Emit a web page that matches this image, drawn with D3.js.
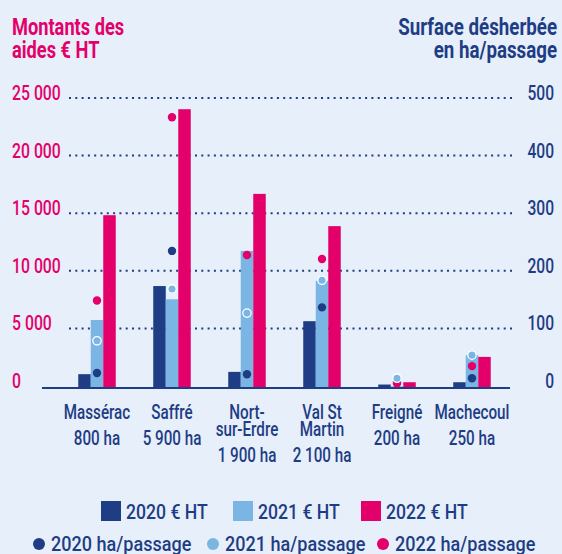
<!DOCTYPE html>
<html>
<head>
<meta charset="utf-8">
<title></title>
<style>
  html, body { margin: 0; padding: 0; background: #e7effa; }
  svg { display: block; font-family: "Roboto", "Noto Sans", sans-serif; font-weight: 500; }
</style>
</head>
<body>
<script src="https://cdn.jsdelivr.net/npm/d3@7"></script>
<script>
// données
var communes = ["Massérac", "Saffré", "Nort-sur-Erdre", "Val St Martin", "Freigné", "Machecoul"];
var nomLignes = [["Massérac"], ["Saffré"], ["Nort-", "sur-Erdre"], ["Val St", "Martin"], ["Freigné"], ["Machecoul"]];
var surfaces = ["800 ha", "5 900 ha", "1 900 ha", "2 100 ha", "200 ha", "250 ha"];
var annees = ["2020", "2021", "2022"];

// montants des aides € HT
var aides2020 = [1200, 8850, 1400, 5800, 300, 500];
var aides2021 = [5900, 7700, 11900, 9300, 150, 2850];
var aides2022 = [15000, 24200, 16850, 14050, 500, 2700];

// surface désherbée ha/passage
var ha2020 = [26, 238, 24, 140, 11, 17];
var ha2021 = [82, 172, 130, 187, 17, 57];
var ha2022 = [152, 470, 231, 224, 8, 38];

var ticksAides = [0, 5000, 10000, 15000, 20000, 25000];
var ticksHa = [0, 100, 200, 300, 400, 500];

var width = 562, height = 554;
var bleu = "#1e3d85", ciel = "#7ab5e4", rose = "#e4006a";
var couleurs = {"2020": bleu, "2021": ciel, "2022": rose};
var fmt = function(v) { return d3.format(",")(v).replace(/,/g, " "); };

// police étroite : on resserre le texte horizontalement
function etroit(sel, px, k) {
  sel.attr("transform", function(d, i) {
    var X = typeof px === "function" ? px(d, i) : px;
    return "translate(" + X + ",0) scale(" + k + ",1)";
  }).attr("x", 0);
}

var svg = d3.select("body").append("svg")
    .attr("width", width)
    .attr("height", height);

svg.append("rect").attr("width", width).attr("height", height).attr("fill", "#e7effa");

var x = d3.scaleBand()
    .domain(communes)
    .range([59.5, 509.5])
    .paddingInner(0.5)
    .paddingOuter(0.25);

var xs = d3.scaleBand().domain(annees).range([0, x.bandwidth()]);

var y = d3.scaleLinear().domain([0, 25000]).range([388, 100]);
var y2 = d3.scaleLinear().domain([0, 500]).range([388, 100]);

// titres
var titreG = svg.append("text").attr("fill", rose).attr("font-weight", 700).attr("font-size", 24)
    .call(etroit, 12, 0.76);
titreG.append("tspan").attr("x", 0).attr("y", 35).text("Montants des");
titreG.append("tspan").attr("x", 0).attr("y", 58).text("aides € HT");

var titreD = svg.append("text").attr("fill", bleu).attr("font-weight", 700).attr("font-size", 24)
    .attr("text-anchor", "end")
    .call(etroit, 557, 0.78);
titreD.append("tspan").attr("x", 0).attr("y", 35).text("Surface désherbée");
titreD.append("tspan").attr("x", 0).attr("y", 58).text("en ha/passage");

// grille pointillée
svg.append("g")
  .selectAll("line")
  .data(ticksAides.filter(d => d > 0))
  .join("line")
    .attr("x1", 69).attr("x2", 512)
    .attr("y1", d => y(d) - 2).attr("y2", d => y(d) - 2)
    .attr("stroke", bleu)
    .attr("stroke-width", 2)
    .attr("stroke-dasharray", "2 4.3");

// axe gauche
svg.append("g")
  .selectAll("text")
  .data(ticksAides)
  .join("text")
    .attr("y", d => y(d))
    .attr("fill", rose)
    .attr("font-size", 20)
    .text(fmt)
    .call(etroit, 12, 0.79);

// axe droit
svg.append("g")
  .selectAll("text")
  .data(ticksHa)
  .join("text")
    .attr("y", d => y2(d))
    .attr("text-anchor", "end")
    .attr("fill", bleu)
    .attr("font-size", 20)
    .text(d => d)
    .call(etroit, 554, 0.78);

// barres
var series = [
  {annee: "2020", valeurs: aides2020},
  {annee: "2021", valeurs: aides2021},
  {annee: "2022", valeurs: aides2022}
];

svg.append("g")
  .selectAll("g")
  .data(series)
  .join("g")
    .attr("fill", s => couleurs[s.annee])
  .selectAll("rect")
  .data(s => s.valeurs.map((v, i) => ({annee: s.annee, commune: communes[i], v: v})))
  .join("rect")
    .attr("x", d => x(d.commune) + xs(d.annee))
    .attr("y", d => y(d.v))
    .attr("width", xs.bandwidth())
    .attr("height", d => y(0) - y(d.v));

// ligne de base
svg.append("line")
    .attr("x1", 42).attr("x2", 510)
    .attr("y1", 388).attr("y2", 388)
    .attr("stroke", bleu)
    .attr("stroke-width", 2);

// points ha/passage
var points = [
  {annee: "2020", valeurs: ha2020},
  {annee: "2022", valeurs: ha2022},
  {annee: "2021", valeurs: ha2021}
];

svg.append("g")
  .selectAll("g")
  .data(points)
  .join("g")
  .selectAll("circle")
  .data(s => s.valeurs.map((v, i) => ({annee: s.annee, commune: communes[i], v: v})))
  .join("circle")
    .attr("cx", d => x(d.commune) + x.bandwidth() / 2)
    .attr("cy", d => y2(d.v))
    .attr("r", 4.2)
    .attr("fill", d => couleurs[d.annee])
    .attr("stroke", d => d.annee === "2021" ? "#ffffff" : "none")
    .attr("stroke-width", 1.3);

// étiquettes des communes
var etiq = svg.append("g")
  .selectAll("text")
  .data(communes)
  .join("text")
    .attr("text-anchor", "middle")
    .attr("fill", bleu)
    .attr("font-size", 20)
    .call(etroit, c => x(c) + x.bandwidth() / 2, 0.76);

etiq.each(function(c, i) {
  var t = d3.select(this);
  var lignes = nomLignes[i];
  lignes.forEach(function(l, j) {
    t.append("tspan").attr("x", 0).attr("y", 419 + j * 17.5).text(l);
  });
  t.append("tspan").attr("x", 0).attr("y", 419 + (lignes.length - 1) * 17.5 + 26).text(surfaces[i]);
});

// légende
var legBarres = [
  {annee: "2020", label: "2020 € HT", x: 101},
  {annee: "2021", label: "2021 € HT", x: 233},
  {annee: "2022", label: "2022 € HT", x: 361}
];
var legPoints = [
  {annee: "2020", label: "2020 ha/passage", x: 39},
  {annee: "2021", label: "2021 ha/passage", x: 213},
  {annee: "2022", label: "2022 ha/passage", x: 383}
];

var lb = svg.append("g").selectAll("g").data(legBarres).join("g");
lb.append("rect")
    .attr("x", d => d.x).attr("y", 501)
    .attr("width", 20).attr("height", 20)
    .attr("fill", d => couleurs[d.annee]);
lb.append("text")
    .attr("y", 519)
    .attr("fill", bleu).attr("font-size", 21)
    .text(d => d.label)
    .call(etroit, d => d.x + 25, 0.84);

var lp = svg.append("g").selectAll("g").data(legPoints).join("g");
lp.append("circle")
    .attr("cx", d => d.x).attr("cy", 544)
    .attr("r", 6)
    .attr("fill", d => couleurs[d.annee]);
lp.append("text")
    .attr("y", 551)
    .attr("fill", bleu).attr("font-size", 21)
    .text(d => d.label)
    .call(etroit, d => d.x + 12, 0.86);
</script>
</body>
</html>
